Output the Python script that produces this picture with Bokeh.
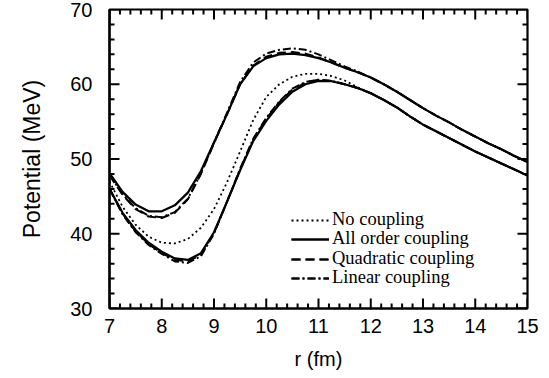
import numpy as np
from bokeh.plotting import figure
from bokeh.models import Range1d, SingleIntervalTicker, Legend, LegendItem
from bokeh.embed import file_html
from bokeh.resources import INLINE

r = [7.00, 7.25, 7.50, 7.75, 8.00, 8.25, 8.50, 8.75, 9.00, 9.25, 9.50, 9.75,
     10.00, 10.25, 10.50, 10.75, 11.00, 11.25, 11.50, 11.75, 12.00, 12.25, 12.50,
     12.75, 13.00, 13.25, 13.50, 13.75, 14.00, 14.25, 14.50, 14.75, 15.00]

no_coupling = [47.0, 43.6, 41.2, 39.6, 38.8, 38.7, 39.3, 40.8, 43.3, 46.9, 51.0, 55.2,
               58.3, 60.0, 61.0, 61.4, 61.4, 61.1, 60.5, 59.6, 58.8, 57.9, 56.9,
               55.7, 54.6, 53.7, 52.8, 51.9, 51.0, 50.2, 49.4, 48.6, 47.8]

all_upper = [48.1, 45.6, 43.9, 43.0, 43.0, 43.8, 45.5, 48.4, 52.2, 56.0, 60.0, 62.4,
             63.5, 64.0, 64.1, 63.9, 63.5, 62.9, 62.2, 61.6, 60.9, 60.0, 59.0,
             57.9, 56.8, 55.8, 54.9, 53.9, 53.0, 52.1, 51.3, 50.4, 49.6]
all_lower = [46.0, 42.8, 40.5, 38.8, 37.6, 36.7, 36.5, 37.4, 40.2, 44.3, 48.5, 52.4,
             55.1, 57.3, 59.0, 60.0, 60.45, 60.4, 60.0, 59.5, 58.8, 57.9, 56.9,
             55.7, 54.6, 53.7, 52.8, 51.9, 51.0, 50.2, 49.4, 48.6, 47.8]

quad_upper = [47.8, 45.2, 43.3, 42.3, 42.1, 42.8, 44.6, 48.0, 52.1, 56.0, 60.0, 62.5,
              63.7, 64.2, 64.3, 64.1, 63.6, 62.9, 62.2, 61.6, 60.9, 60.0, 59.0,
              57.9, 56.8, 55.8, 54.9, 53.9, 53.0, 52.1, 51.3, 50.4, 49.6]
quad_lower = [46.0, 42.7, 40.3, 38.6, 37.4, 36.5, 36.3, 37.2, 40.1, 44.3, 48.6, 52.6,
              55.4, 57.6, 59.3, 60.2, 60.6, 60.45, 60.0, 59.5, 58.8, 57.9, 56.9,
              55.7, 54.6, 53.7, 52.8, 51.9, 51.0, 50.2, 49.4, 48.6, 47.8]

lin_upper = [47.9, 45.3, 43.4, 42.4, 42.2, 42.9, 44.7, 48.1, 52.2, 56.2, 60.3, 62.9,
             64.1, 64.6, 64.8, 64.6, 64.0, 63.2, 62.4, 61.7, 60.9, 60.0, 59.0,
             57.9, 56.8, 55.8, 54.9, 53.9, 53.0, 52.1, 51.3, 50.4, 49.6]
lin_lower = [46.0, 42.6, 40.2, 38.5, 37.3, 36.3, 36.1, 37.0, 40.0, 44.3, 48.7, 52.7,
             55.5, 57.7, 59.4, 60.3, 60.6, 60.45, 60.0, 59.5, 58.8, 57.9, 56.9,
             55.7, 54.6, 53.7, 52.8, 51.9, 51.0, 50.2, 49.4, 48.6, 47.8]

labels = ["No coupling", "All order coupling", "Quadratic coupling", "Linear coupling"]

X_MIN, X_MAX, Y_MIN, Y_MAX = 7, 15, 30, 70
W, H = 549, 378
BL, BR, BT, BB = 109, 22, 9, 70

p = figure(width=W, height=H, output_backend="svg", toolbar_location=None,
           x_range=Range1d(X_MIN, X_MAX), y_range=Range1d(Y_MIN, Y_MAX),
           min_border_left=BL, min_border_right=BR, min_border_top=BT, min_border_bottom=BB)
p.grid.visible = False
p.outline_line_color = "black"
p.outline_line_width = 2.2
p.background_fill_color = "white"
p.border_fill_color = "white"

p.xaxis.ticker = SingleIntervalTicker(interval=1, num_minor_ticks=5)
p.yaxis.ticker = SingleIntervalTicker(interval=10, num_minor_ticks=5)
for ax in list(p.xaxis) + list(p.yaxis):
    ax.axis_line_width = 2.2
    ax.axis_line_color = "black"
    ax.major_tick_in = 0
    ax.major_tick_out = 0
    ax.minor_tick_in = 0
    ax.minor_tick_out = 0
    ax.major_label_text_font = "Liberation Sans"
    ax.major_label_text_font_size = "20px"
    ax.major_label_text_color = "black"
    ax.axis_label_text_font = "Liberation Sans"
    ax.axis_label_text_font_style = "normal"
    ax.axis_label_text_color = "black"
p.xaxis.axis_label = "r (fm)"
p.xaxis.axis_label_text_font_size = "20px"
p.xaxis.major_label_standoff = 10
p.xaxis.axis_label_standoff = 12
p.yaxis.axis_label = "Potential (MeV)"
p.yaxis.axis_label_text_font_size = "23px"
p.yaxis.major_label_standoff = 17
p.yaxis.axis_label_standoff = 22

# inward tick marks on all four sides, drawn as short line pieces
px_per_x = (W - BL - BR) / (X_MAX - X_MIN)
px_per_y = (H - BT - BB) / (Y_MAX - Y_MIN)
x_major = np.arange(X_MIN, X_MAX + 0.001, 1.0)
x_minor = [v for v in np.arange(X_MIN, X_MAX + 0.001, 0.2) if abs(v - round(v)) > 1e-6]
y_major = np.arange(Y_MIN, Y_MAX + 0.001, 10.0)
y_minor = [v for v in np.arange(Y_MIN, Y_MAX + 0.001, 2.0)
           if abs(v / 10 - round(v / 10)) > 1e-6]
tx, ty = [], []
for xs, ln in ((x_major, 10), (x_minor, 5)):
    d = ln / px_per_y
    for v in xs:
        tx += [[v, v], [v, v]]
        ty += [[Y_MIN, Y_MIN + d], [Y_MAX, Y_MAX - d]]
for ys, ln in ((y_major, 10), (y_minor, 5)):
    d = ln / px_per_x
    for v in ys:
        tx += [[X_MIN, X_MIN + d], [X_MAX, X_MAX - d]]
        ty += [[v, v], [v, v]]
p.multi_line(tx, ty, line_color="black", line_width=2)

r_no = p.line(r, no_coupling, line_color="black", line_width=1.8, line_dash="2 3")
r_au = p.line(r, all_upper, line_color="black", line_width=2.2)
r_al = p.line(r, all_lower, line_color="black", line_width=2.2)
r_qu = p.line(r, quad_upper, line_color="black", line_width=2, line_dash="9 5")
r_ql = p.line(r, quad_lower, line_color="black", line_width=2, line_dash="9 5")
r_lu = p.line(r, lin_upper, line_color="black", line_width=2, line_dash="8 3 2 3")
r_ll = p.line(r, lin_lower, line_color="black", line_width=2, line_dash="8 3 2 3")

entries = [(labels[0], [r_no]), (labels[1], [r_au, r_al]),
           (labels[2], [r_qu, r_ql]), (labels[3], [r_lu, r_ll])]
row_bottoms = [78, 59, 39, 20]
for (lab, rends), yb in zip(entries, row_bottoms):
    lg = Legend(items=[LegendItem(label=lab, renderers=rends)], location=(182, yb))
    lg.background_fill_alpha = 0
    lg.border_line_color = None
    lg.label_text_font = "Liberation Serif"
    lg.label_text_font_size = "18.5px"
    lg.label_text_color = "black"
    lg.glyph_width = 38
    lg.glyph_height = 18
    lg.label_height = 18
    lg.label_standoff = 3
    lg.spacing = 0
    lg.padding = 0
    lg.margin = 0
    p.add_layout(lg, "center")

open("out.html", "w").write(file_html(p, INLINE))
